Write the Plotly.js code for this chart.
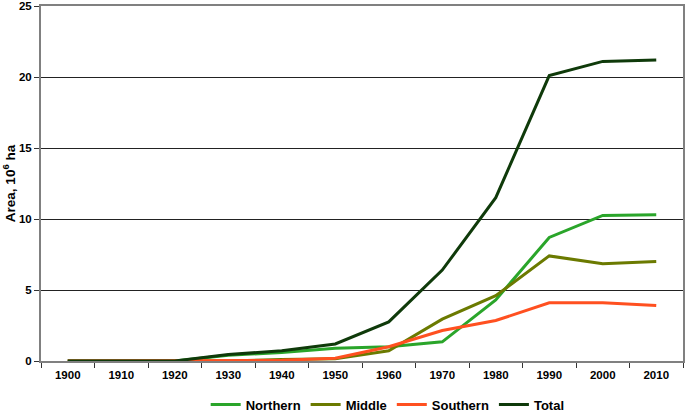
<!DOCTYPE html>
<html>
<head>
<meta charset="utf-8">
<script src="https://cdn.plot.ly/plotly-3.0.1.min.js"></script>
<style>html,body{margin:0;padding:0;background:#fff}#chart{width:685px;height:412px}</style>
</head>
<body>
<div id="chart"></div>
<script>
var years = ["1900","1910","1920","1930","1940","1950","1960","1970","1980","1990","2000","2010"];
var northern = [0, 0, 0, 0.4, 0.6, 0.9, 1.0, 1.35, 4.3, 8.7, 10.25, 10.3];
var middle   = [0, 0, 0, 0.0, 0.1, 0.15, 0.72, 2.95, 4.6, 7.4, 6.85, 7.0];
var southern = [0, 0, 0, 0.0, 0.05, 0.2, 1.0, 2.15, 2.85, 4.1, 4.1, 3.9];
var total    = [0, 0, 0, 0.45, 0.72, 1.2, 2.75, 6.4, 11.5, 20.1, 21.1, 21.2];

var seriesNames = ["Northern", "Middle", "Southern", "Total"];
var seriesData = [northern, middle, southern, total];
var colors = ["#2aa52a", "#6b7a00", "#ff5020", "#0f3a0a"];

var traces = seriesData.map(function (d, i) {
  return {
    x: years, y: d, name: seriesNames[i], type: "scatter", mode: "lines",
    line: {color: colors[i], width: 3}
  };
});

var layout = {
  width: 685, height: 412,
  margin: {l: 41, r: 2, t: 6, b: 51, autoexpand: false},
  paper_bgcolor: "#fff", plot_bgcolor: "#fff",
  font: {family: "Liberation Sans, Arial, sans-serif", color: "#000"},
  showlegend: true,
  legend: {orientation: "h", x: 0.54, xanchor: "center", yref: "container", y: 0.018, yanchor: "middle",
           font: {size: 13, family: "Liberation Sans, Arial, sans-serif", weight: "bold"},
           traceorder: "normal", itemwidth: 30, tracegroupgap: 0},
  xaxis: {
    type: "category", range: [-0.5, 11.5], automargin: false,
    showgrid: false, zeroline: false,
    showline: true, linecolor: "#808080", linewidth: 2, mirror: true,
    ticks: "outside", tickson: "boundaries", ticklen: 5, tickcolor: "#333",
    ticklabelstandoff: 2,
    tickfont: {size: 11.5, weight: "bold"}
  },
  yaxis: {
    range: [0, 25.0001], tickvals: [0, 5, 10, 15, 20, 25], ticktext: ["0","5","10","15","20","25"],
    automargin: false,
    showgrid: true, gridcolor: "#222", gridwidth: 1,
    zeroline: false,
    showline: true, linecolor: "#808080", linewidth: 2, mirror: true,
    ticks: "outside", ticklen: 5, tickcolor: "#333",
    tickfont: {size: 11.5, weight: "bold"},
    title: {text: "Area, 10<sup>6</sup> ha", font: {size: 13.5, weight: "bold"}, standoff: 6}
  }
};

Plotly.newPlot("chart", traces, layout, {staticPlot: true});
</script>
</body>
</html>
